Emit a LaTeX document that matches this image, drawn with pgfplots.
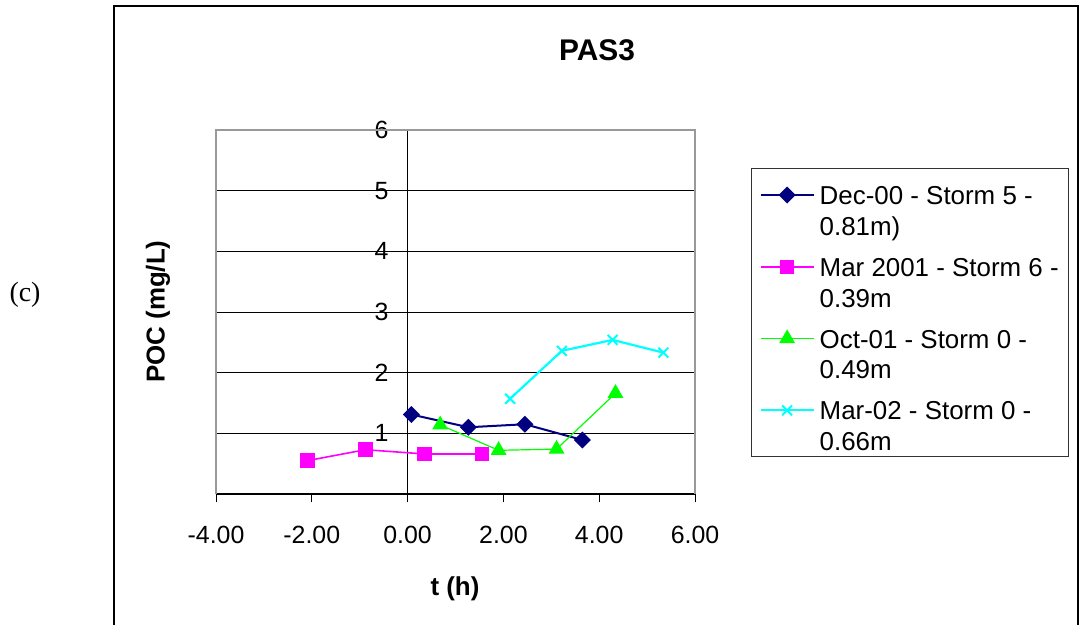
\documentclass[border=0pt]{standalone}
\usepackage{fontspec}
\setmainfont{Liberation Sans}
\newfontfamily\timesfont{Liberation Serif}
\usepackage{pgfplots}
\pgfplotsset{compat=1.18}
\definecolor{navy}{RGB}{0,0,128}
\definecolor{exmag}{RGB}{255,0,255}
\definecolor{exgreen}{RGB}{0,255,0}
\definecolor{excyan}{RGB}{0,255,255}
\newcommand{\fl}{\rule{0pt}{32bp}}
\newcommand{\lastl}{\rule[-15bp]{0pt}{15bp}}
\begin{document}
\begin{tikzpicture}
\useasboundingbox (0,0) rectangle (1081bp,625bp);
\draw[black, line width=1.3bp] (114bp,0) -- (114bp,619bp) -- (1078bp,619bp) -- (1078bp,0);
\node[font=\bfseries\fontsize{30}{36}\selectfont, anchor=base] at (597bp,564bp) {PAS3};
\node[font=\timesfont\fontsize{28}{34}\selectfont, anchor=base] at (25bp,323bp) {(c)};
\begin{axis}[
  at={(216bp,131bp)}, anchor=south west,
  scale only axis, width=479bp, height=364bp,
  xmin=-4, xmax=6, ymin=0, ymax=6,
  axis x line*=bottom, axis y line*=middle,
  axis line style={black, line width=1.3bp},
  xtick={-4,-2,0,2,4,6}, ytick={0,1,2,3,4,5,6},
  ymajorgrids, grid style={black, line width=1bp},
  tick style={black, line width=1bp},
  major tick length=8bp, tick align=outside,
  xticklabel={\pgfmathprintnumber[fixed,fixed zerofill,precision=2,assume math mode=true]{\tick}},
  yticklabel={\pgfmathprintnumber[assume math mode=true]{\tick}},
  ticklabel style={font=\fontsize{25}{30}\selectfont, inner sep=0pt},
  xticklabel style={anchor=north, yshift=-23.7bp},
  yticklabel style={anchor=east, xshift=-11bp},
  every axis x label/.style={at={(axis description cs:0.499,-0.2788)}, anchor=base, font=\bfseries\fontsize{26}{31}\selectfont},
  every axis y label/.style={at={(axis description cs:-0.1075,0.501)}, anchor=base, rotate=90, font=\bfseries\fontsize{26}{31}\selectfont},
  xlabel={t (h)}, ylabel={POC (mg/L)},
  clip=false,
  legend style={at={(1.117,0.8956)}, anchor=north west, draw=black!80, line width=1bp, fill=white,
    font=\fontsize{26}{31}\selectfont, inner xsep=8bp, inner ysep=2bp, row sep=3.4bp, column sep=3bp,
    cells={anchor=base west, align=left, inner sep=0pt}},
  legend image code/.code={\draw[mark repeat=2, mark phase=2, yshift=40.3bp] plot coordinates {(0bp,0bp) (26.5bp,0bp) (53bp,0bp)};},
]
\addplot[color=navy, line width=2bp, mark=square*, mark size=5bp, mark options={rotate=45, solid}]
  coordinates {(0.08,1.31) (1.27,1.10) (2.45,1.15) (3.65,0.89)};
\addlegendentry{\fl Dec-00 - Storm 5 -\\0.81m)\lastl}
\addplot[color=exmag, line width=1.6bp, mark=square*, mark size=6.5bp, mark options={solid}]
  coordinates {(-2.09,0.55) (-0.88,0.73) (0.35,0.66) (1.55,0.66)};
\addlegendentry{\fl Mar 2001 - Storm 6 -\\0.39m\lastl}
\addplot[color=exgreen, line width=1.2bp, mark=triangle*, mark size=8bp, mark options={solid}]
  coordinates {(0.68,1.14) (1.90,0.72) (3.11,0.74) (4.34,1.66)};
\addlegendentry{\fl Oct-01 - Storm 0 -\\0.49m\lastl}
\addplot[color=excyan, line width=2.2bp, mark=x, mark size=7bp, mark options={solid, line width=2bp}]
  coordinates {(2.14,1.57) (3.22,2.36) (4.28,2.54) (5.34,2.33)};
\addlegendentry{\fl Mar-02 - Storm 0 -\\0.66m\lastl}
\draw[gray!80, line width=1.5bp] (rel axis cs:0,0) -- (rel axis cs:0,1) -- (rel axis cs:1,1) -- (rel axis cs:1,0);
\end{axis}
\end{tikzpicture}
\end{document}
